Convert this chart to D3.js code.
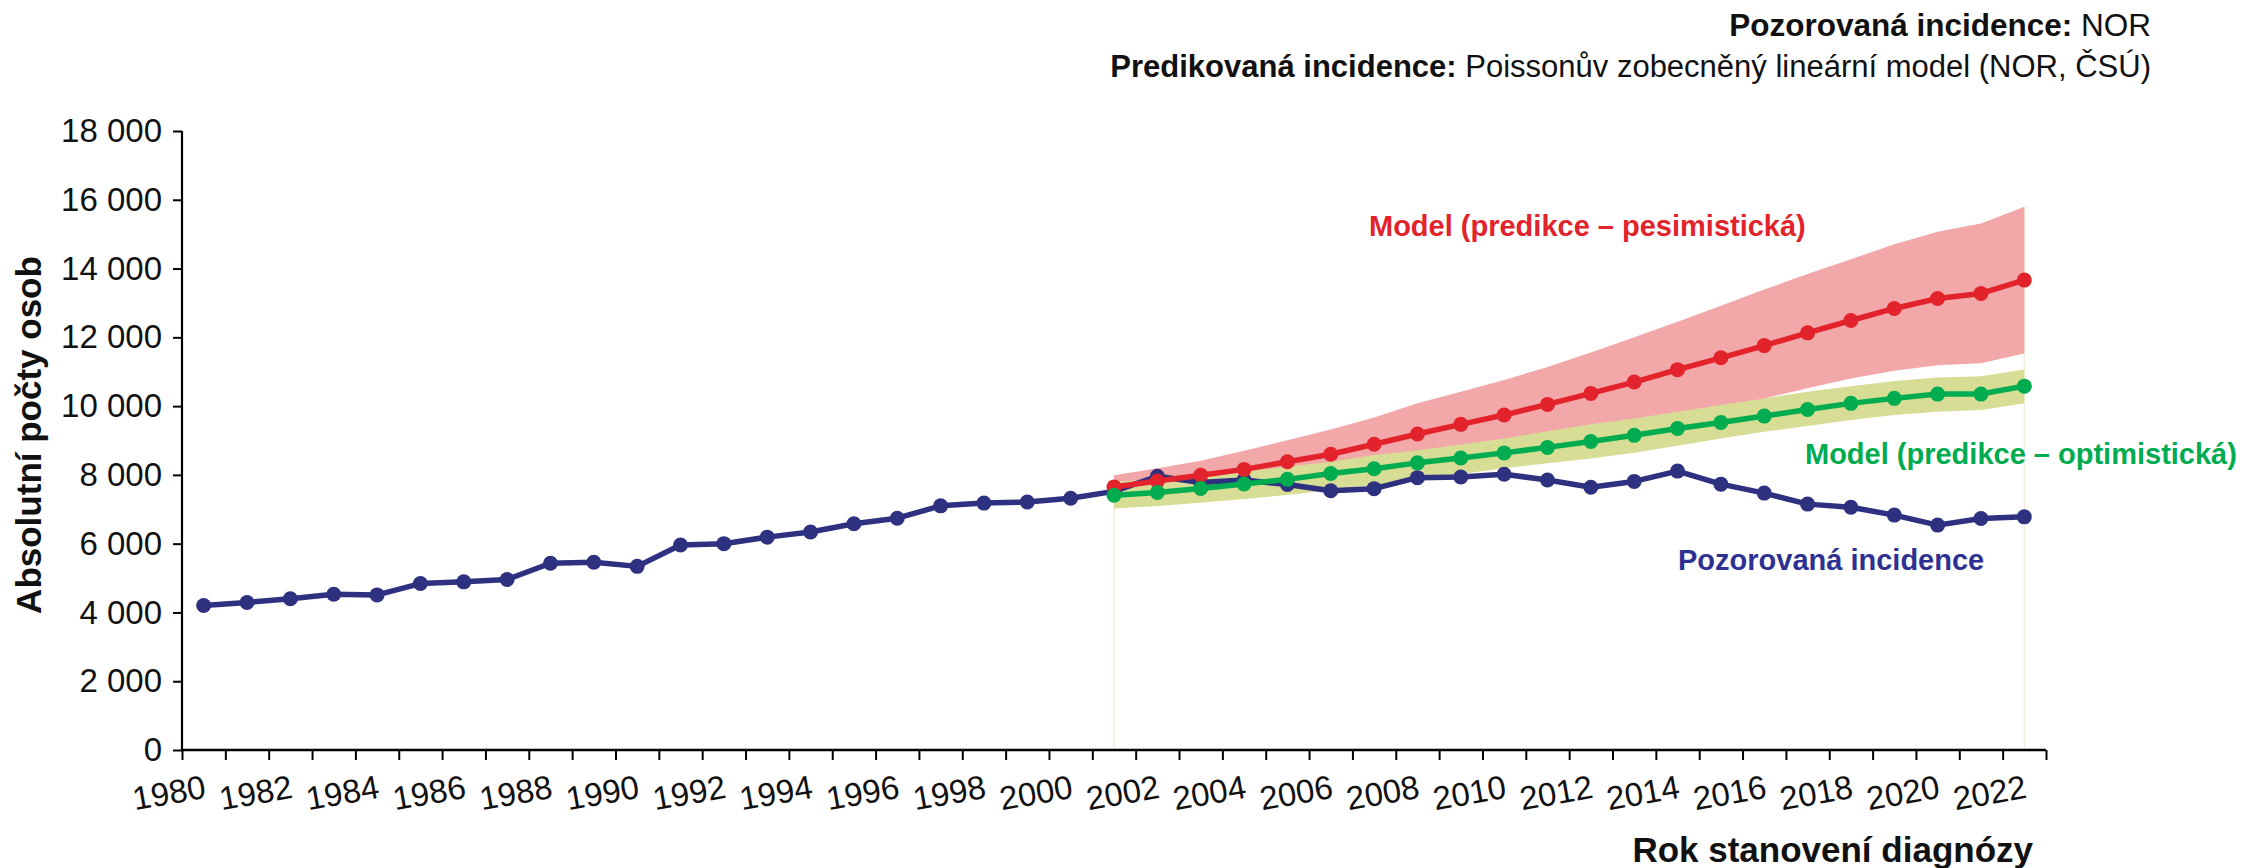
<!DOCTYPE html>
<html>
<head>
<meta charset="utf-8">
<script src="https://cdn.jsdelivr.net/npm/d3@7"></script>
<style>
  html, body { margin: 0; padding: 0; background: #ffffff; }
  svg { display: block; font-family: "Liberation Sans", Arial, sans-serif; }
</style>
</head>
<body>
<script>
// ---------- DATA ----------
const years = [1980,1981,1982,1983,1984,1985,1986,1987,1988,1989,1990,1991,1992,1993,1994,1995,1996,1997,1998,1999,2000,2001,2002,2003,2004,2005,2006,2007,2008,2009,2010,2011,2012,2013,2014,2015,2016,2017,2018,2019,2020,2021,2022];
const observed = [4200,4290,4400,4530,4510,4840,4890,4960,5430,5460,5340,5960,6000,6190,6340,6580,6740,7100,7180,7210,7320,7520,7960,7780,7850,7720,7540,7600,7920,7940,8020,7850,7640,7810,8110,7730,7470,7150,7060,6830,6540,6730,6780];

const predYears = [2001,2002,2003,2004,2005,2006,2007,2008,2009,2010,2011,2012,2013,2014,2015,2016,2017,2018,2019,2020,2021,2022];
const pessimistic      = [7650,7820,7990,8160,8380,8600,8890,9190,9470,9740,10050,10370,10700,11060,11405,11760,12130,12490,12840,13130,13275,13665];
const pessimisticUpper = [7990,8190,8410,8700,9010,9320,9670,10080,10420,10760,11140,11560,12000,12450,12920,13390,13840,14270,14710,15070,15310,15800];
const pessimisticLower = [7310,7450,7570,7690,7770,7890,8120,8290,8520,8720,8950,9180,9400,9640,9890,10220,10520,10800,11030,11190,11250,11530];
const optimistic       = [7410,7490,7605,7735,7870,8040,8180,8350,8490,8640,8800,8970,9150,9350,9525,9710,9900,10080,10225,10350,10350,10580];
const optimisticUpper  = [7800,7870,7965,8090,8235,8380,8575,8720,8885,9060,9270,9470,9640,9835,10030,10220,10420,10580,10730,10835,10870,11065];
const optimisticLower  = [7025,7095,7190,7300,7415,7560,7705,7850,8025,8190,8340,8480,8645,8845,9060,9255,9420,9595,9740,9835,9885,10080];

const yTicks = [0,2000,4000,6000,8000,10000,12000,14000,16000,18000];
const xTickYears = [1980,1981,1982,1983,1984,1985,1986,1987,1988,1989,1990,1991,1992,1993,1994,1995,1996,1997,1998,1999,2000,2001,2002,2003,2004,2005,2006,2007,2008,2009,2010,2011,2012,2013,2014,2015,2016,2017,2018,2019,2020,2021,2022,2023];
const xLabelYears = [1980,1982,1984,1986,1988,1990,1992,1994,1996,1998,2000,2002,2004,2006,2008,2010,2012,2014,2016,2018,2020,2022];

// ---------- STYLE ----------
const C_BLUE = "#2E3180", C_RED = "#E3232B", C_GREEN = "#00AC4F";
const C_PINK = "#F2A7A9", C_OLIVE = "#D7DD95";

const W = 2248, H = 868;
const svg = d3.select("body").append("svg").attr("width", W).attr("height", H);

const x = d3.scaleLinear().domain([1980, 2023]).range([182, 2046]);
const y = d3.scaleLinear().domain([0, 18000]).range([750, 131]);
const px = yr => x(yr + 0.5);

const loc = d3.formatLocale({decimal: ",", thousands: "\u00a0", grouping: [3], currency: ["", ""]});
const fmt = loc.format(",d");

// ---------- BANDS ----------
const pred = predYears.map((yr, i) => ({
  yr, pes: pessimistic[i], pu: pessimisticUpper[i], pl: pessimisticLower[i],
  opt: optimistic[i], ou: optimisticUpper[i], ol: optimisticLower[i]
}));

// faint drop lines at band edges
[pred[0], pred[pred.length - 1]].forEach(d => {
  svg.append("line")
    .attr("x1", px(d.yr)).attr("x2", px(d.yr))
    .attr("y1", y(d.pu)).attr("y2", y(0))
    .attr("stroke", "#F1EEDB").attr("stroke-width", 1.5);
});

svg.append("path").datum(pred)
  .attr("d", d3.area().x(d => px(d.yr)).y0(d => y(d.pl)).y1(d => y(d.pu)))
  .attr("fill", C_PINK);
svg.append("path").datum(pred)
  .attr("d", d3.area().x(d => px(d.yr)).y0(d => y(d.ol)).y1(d => y(d.ou)))
  .attr("fill", C_OLIVE);

// ---------- AXES ----------
const yAxis = svg.append("g").attr("transform", "translate(182,0)")
  .call(d3.axisLeft(y).tickValues(yTicks).tickFormat(fmt).tickSize(9).tickPadding(11));
yAxis.select(".domain").attr("stroke", "#000").attr("stroke-width", 2.2).attr("d", "M0,131V750");
yAxis.selectAll(".tick line").attr("stroke", "#000").attr("stroke-width", 2);
yAxis.selectAll(".tick text").attr("font-size", 33).attr("fill", "#111")
  .attr("font-family", "Liberation Sans, Arial, sans-serif");

const xAxis = svg.append("g").attr("transform", "translate(0,750)")
  .call(d3.axisBottom(x).tickValues(xTickYears).tickFormat("").tickSize(10));
xAxis.select(".domain").attr("stroke", "#000").attr("stroke-width", 2.6).attr("d", "M182,0H2046");
xAxis.selectAll(".tick line").attr("stroke", "#000").attr("stroke-width", 2);

svg.append("g").selectAll("text").data(xLabelYears).join("text")
  .attr("transform", d => `translate(${x(d) - 11},804) rotate(-10)`)
  .attr("text-anchor", "middle")
  .attr("font-size", 33).attr("fill", "#111")
  .text(d => d);

// ---------- LINES ----------
const obs = years.map((yr, i) => ({yr, v: observed[i]}));
function drawSeries(data, acc, color) {
  svg.append("path").datum(data)
    .attr("d", d3.line().x(d => px(d.yr)).y(d => y(acc(d))))
    .attr("fill", "none").attr("stroke", color).attr("stroke-width", 5.5)
    .attr("stroke-linejoin", "round");
  svg.append("g").selectAll("circle").data(data).join("circle")
    .attr("cx", d => px(d.yr)).attr("cy", d => y(acc(d))).attr("r", 7.5)
    .attr("fill", color);
}
drawSeries(obs, d => d.v, C_BLUE);
drawSeries(pred, d => d.pes, C_RED);
drawSeries(pred, d => d.opt, C_GREEN);

// ---------- LABELS ----------
svg.append("text").attr("x", 1369).attr("y", 236)
  .attr("font-size", 29).attr("font-weight", "bold").attr("fill", C_RED)
  .text("Model (predikce – pesimistická)");
svg.append("text").attr("x", 1805).attr("y", 464)
  .attr("font-size", 29).attr("font-weight", "bold").attr("fill", C_GREEN)
  .text("Model (predikce – optimistická)");
svg.append("text").attr("x", 1678).attr("y", 570)
  .attr("font-size", 29).attr("font-weight", "bold").attr("fill", "#2E3192")
  .text("Pozorovaná incidence");

// axis titles
svg.append("text")
  .attr("transform", "translate(41,435) rotate(-90)")
  .attr("text-anchor", "middle")
  .attr("font-size", 35).attr("font-weight", "bold").attr("fill", "#111")
  .text("Absolutní počty osob");
svg.append("text").attr("x", 2033).attr("y", 862)
  .attr("text-anchor", "end")
  .attr("font-size", 35).attr("font-weight", "bold").attr("fill", "#111")
  .text("Rok stanovení diagnózy");

// header
const h1 = svg.append("text").attr("x", 2151).attr("y", 36).attr("text-anchor", "end")
  .attr("font-size", 31.5).attr("fill", "#111");
h1.append("tspan").attr("font-weight", "bold").text("Pozorovaná incidence:");
h1.append("tspan").text(" NOR");
const h2 = svg.append("text").attr("x", 2151).attr("y", 77).attr("text-anchor", "end")
  .attr("font-size", 31).attr("fill", "#111");
h2.append("tspan").attr("font-weight", "bold").text("Predikovaná incidence:");
h2.append("tspan").text(" Poissonův zobecněný lineární model (NOR, ČSÚ)");
</script>
</body>
</html>
